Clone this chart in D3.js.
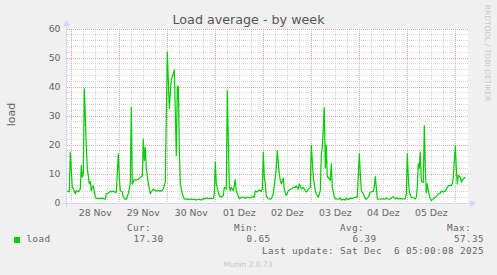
<!DOCTYPE html>
<html><head><meta charset="utf-8">
<script src="https://cdn.jsdelivr.net/npm/d3@7"></script>
<style>
html,body{margin:0;padding:0;background:#f0f0f0;}
svg{display:block;}
text{font-family:"DejaVu Sans",sans-serif;}
.mono{font-family:"DejaVu Sans Mono",monospace;white-space:pre;}
</style></head>
<body>
<svg id="c" width="497" height="275"></svg>
<script>
// ---- data (hours since 2025-11-28 00:00, load values) ----
const hours = [-2,-1.5,-1,-0.5,0.5,1,2,2.5,3.5,4.5,5,5.5,6,6.5,7,7.5,8,9,9.5,10,10.5,11,12,12.5,14.5,15,16,17,17.5,18.5,19.5,20,21,22,22.5,23.5,24,24.5,25.5,26,27,27.5,28.5,29.5,30,30.5,31.5,32.5,33.5,34.5,35.5,36,36.5,37,37.5,38.5,39.5,40,41,42,42.5,44.5,45,46,47,48,49,49.5,50,50.5,51.5,52.5,53,53.5,54,54.5,55.5,56.5,57,58,59,60,61,61.5,62.5,63,64,65,66,66.5,67.5,68.5,69,70,71,71.5,72,72.5,73.5,74,75,76,76.5,77.5,78,79,79.5,80,81,82,82.5,83.5,84,85.5,86.5,87,88,89,90,91,91.5,92,93,94,95,95.5,96,96.5,97,97.5,98.5,99.5,100,101,102,102.5,103,104,104.5,105,106,106.5,107,107.5,108.5,109.5,110,111,112,112.5,113.5,114,114.5,115,116,117,117.5,118.5,119.5,120,121,122,122.5,123.5,124.5,125,125.5,126.5,127,127.5,128,128.5,129.5,130,130.5,131.5,132,133.5,134.5,135,136,137,137.5,138.5,139.5,140,141,142,143,144,144.5,145,146,147,147.5,148.5,149.5,150,151,151.5,152,152.5,153,154.5,155,156,157,157.5,158.5,159.5,160,161,162,162.5,163.5,164.5,165,166,167,167.5,168,168.5,169,170,171,172,172.5,173,173.5,174,174.5,175,175.5,176,176.5,177,177.5,178,178.5,179.5,180,181,182,182.5,183.5,184.5,185,186,187,187.5,188.5,189.5,190,190.5,191,192,192.5,193,193.5,194.5,195,196,197];
const load = [4.1,4.0,3.8,17.5,5.4,5.0,3.2,4.2,3.8,4.8,12.9,8.9,10,39.4,29.6,19.2,12,6.6,7.5,4.2,5.4,5.9,2.0,1.7,1.5,1.7,1.5,1.3,3.2,3.4,4.1,3.8,4.1,3.6,3.8,17,8.9,4.2,3.8,2.0,1.3,1.3,3.2,6.6,33,6.6,8,8,8.2,8.9,9.4,22.1,14.6,19.2,12,6.6,3.2,3.8,4.8,4.2,4.2,4.2,4.1,4.8,7.2,52,32.5,38,42.5,43.5,45.9,16.4,40,40.3,19,6.6,3.2,1.4,1.3,1.4,1.2,1.4,1.2,1.3,1.0,1.2,1.3,1.0,1.6,1.3,1.7,1.5,1.7,1.5,1.6,3.2,14.1,6.6,3.8,2.6,2.0,2.6,5.4,4.8,38.8,5.4,4.2,5.4,4.2,8,4.2,2.3,1.6,2.0,1.8,1.6,2.0,1.7,2.0,2.3,2.0,4.2,3.8,4.5,4.0,4.8,17.5,8.9,6.6,2.3,1.5,1.3,1.5,3.2,8.9,12,18,10,7.8,6.6,8.6,4.8,3.2,2.6,4.2,4.8,4.8,5.4,5.4,5.9,4.8,6.6,5.9,4.8,5.4,4.2,3.8,4.8,5.4,20,8.9,4.2,3.2,2.0,4.2,17,19,32.8,12,20,8.9,8.9,7.8,13.5,5.4,2.0,1.5,1.3,1.7,1.0,1.3,1.0,1.6,1.2,1.7,1.5,1.7,2.0,2.0,17,10,4.2,3.2,1.5,1.3,2.0,3.8,3.8,4.1,5.4,9.1,5.4,1.4,1.3,1.4,1.4,1.3,1.7,1.3,1.4,1.7,2.2,1.4,1.8,1.4,1.6,1.4,1.4,1.4,3.2,17,8.9,3.8,2.0,1.8,1.4,2.0,5.4,13.5,12,17.5,7.8,7.2,7.2,26.7,12,3.5,6.6,4.2,1.4,0.9,1.4,2.0,2.2,3.2,3.4,4.1,3.8,4.1,4.8,5.9,6.1,6.1,6.6,8.9,19.8,12,6.6,9.5,8.9,7.2,8.4,8.9];
const yTicks = [0,10,20,30,40,50,60];
const dayLabels = ["28 Nov","29 Nov","30 Nov","01 Dez","02 Dez","03 Dez","04 Dez","05 Dez"];
const legendHeads = ["Cur:","Min:","Avg:","Max:"];
const legendVals = ["17.30","0.65","6.39","57.35"];
const seriesName = "load";
const title = "Load average - by week";
const lastUpdate = "Last update: Sat Dec  6 05:00:08 2025";

// ---- scales ----
const base = Date.UTC(2025,10,28);
const t = h => new Date(base + h*3600e3);
const x = d3.scaleUtc().domain([t(-2.15), t(197.85)]).range([67, 467]);
const y = d3.scaleLinear().domain([0,60]).range([203,29]);
const px = v => Math.floor(v) + 0.5;

const svg = d3.select("#c");
svg.append("rect").attr("width",497).attr("height",275).attr("fill","#f0f0f0");
svg.append("rect").attr("x",67).attr("y",29).attr("width",401).attr("height",174).attr("fill","#ffffff");

const g = svg.append("g");
const FONT = "#666666";
const MINOR = "#d6d6d6", MAJOR = "#eba3a3";
// minor grid
const minorY = d3.range(0,61,2).filter(v => v%10!==0);
g.selectAll(".hmin").data(minorY).join("line")
 .attr("x1",67).attr("x2",468).attr("y1",d=>px(y(d))).attr("y2",d=>px(y(d)))
 .attr("stroke",MINOR).attr("stroke-dasharray","1,1");
const minorX = d3.utcHour.every(6).range(x.domain()[0], x.domain()[1]).filter(d => d.getUTCHours()!==0);
g.selectAll(".vmin").data(minorX).join("line")
 .attr("x1",d=>px(x(d))).attr("x2",d=>px(x(d))).attr("y1",29).attr("y2",203)
 .attr("stroke",MINOR).attr("stroke-dasharray","1,1");
// major grid
g.selectAll(".hmaj").data(yTicks.filter(v=>v>0)).join("line")
 .attr("x1",67).attr("x2",468).attr("y1",d=>px(y(d))).attr("y2",d=>px(y(d)))
 .attr("stroke",MAJOR).attr("stroke-dasharray","1,1");
const majorX = d3.utcDay.range(x.domain()[0], x.domain()[1]);
g.selectAll(".vmaj").data(majorX).join("line")
 .attr("x1",d=>px(x(d))).attr("x2",d=>px(x(d))).attr("y1",29).attr("y2",203)
 .attr("stroke",MAJOR).attr("stroke-dasharray","1,1");

// series line
const pts = hours.map((h,i)=>[t(h), load[i]]);
svg.append("path").datum(pts)
 .attr("fill","none").attr("stroke","#00cc00").attr("stroke-width",1.2)
 .attr("stroke-linejoin","round")
 .attr("d", d3.line().x(d=>x(d[0])).y(d=>y(d[1])));

// axes
const AX = "#cfd6f8";
svg.append("line").attr("x1",63).attr("x2",471).attr("y1",px(y(0))).attr("y2",px(y(0))).attr("stroke",AX);
svg.append("path").attr("d",`M470,${px(y(0))-3.5} L476,${px(y(0))} L470,${px(y(0))+3.5}Z`).attr("fill",AX);
svg.append("line").attr("x1",66.5).attr("x2",66.5).attr("y1",207).attr("y2",25).attr("stroke",AX);
svg.append("path").attr("d","M63,26 L66.5,20 L70,26Z").attr("fill",AX);

// y tick labels
svg.selectAll(".yl").data(yTicks).join("text")
 .attr("x",60.5).attr("y",d=>y(d)).attr("dy","0.36em").attr("text-anchor","end")
 .attr("font-size","9.3px").attr("fill",FONT).text(d=>d);
// x labels at noon
const noons = majorX.map(d=>new Date(+d + 12*3600e3));
svg.selectAll(".xl").data(dayLabels).join("text")
 .attr("x",(d,i)=>x(noons[i])).attr("y",215.7).attr("text-anchor","middle")
 .attr("font-size","9.3px").attr("fill",FONT).text(d=>d);

// title
svg.append("text").attr("x",248.5).attr("y",24.3).attr("text-anchor","middle")
 .attr("font-size","12.7px").attr("fill","#555").text(title);
// y label
svg.append("text").attr("transform","translate(15,114.5) rotate(-90)").attr("text-anchor","middle")
 .attr("font-size","11px").attr("fill",FONT).text("load");
// watermark
svg.append("text").attr("transform","translate(485,53) rotate(90)").attr("text-anchor","middle")
 .attr("font-size","7.5px").attr("fill","#c8c8c8").text("RRDTOOL / TOBI OETIKER");

// legend
svg.append("rect").attr("x",14).attr("y",237).attr("width",6).attr("height",6).attr("fill","#00cc00");
const mono = (s,xx,yy,anchor) => svg.append("text").attr("class","mono").attr("x",xx).attr("y",yy)
 .attr("text-anchor",anchor).attr("font-size","9.3px").attr("letter-spacing","0.4px").attr("fill",FONT).text(s);
mono(seriesName, 26.5, 242.3, "start");
const headX = [127, 234, 340, 447];
const valX = [163.5, 270.5, 376.5, 484];
legendHeads.forEach((s,i)=>mono(s, headX[i], 231, "start"));
legendVals.forEach((s,i)=>mono(s, valX[i], 242.3, "end"));
mono(lastUpdate, 484, 254.3, "end");
svg.append("text").attr("x",248).attr("y",266.7).attr("text-anchor","middle")
 .attr("font-size","7.5px").attr("fill","#c8c8c8").text("Munin 2.0.73");
</script>
</body></html>
